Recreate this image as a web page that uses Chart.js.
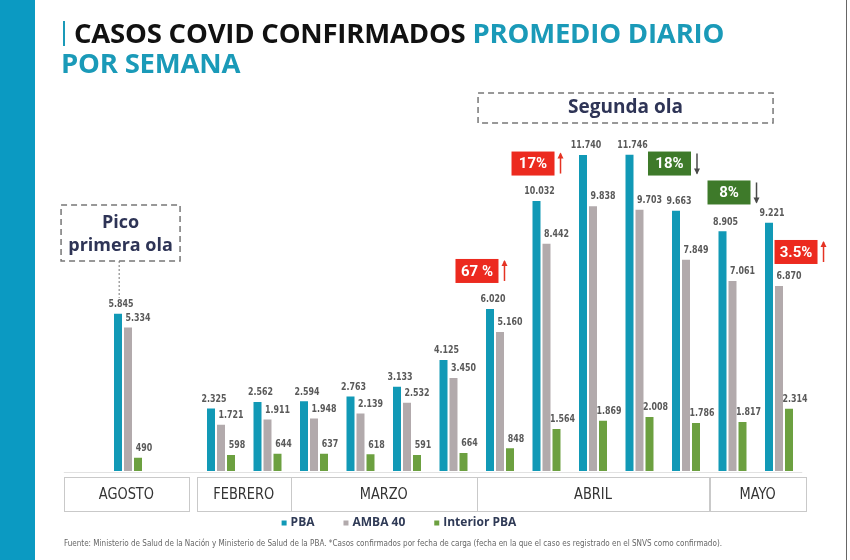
<!DOCTYPE html>
<html>
<head>
<meta charset="utf-8">
<script src="https://cdn.jsdelivr.net/npm/chart.js@4.4.0/dist/chart.umd.min.js"></script>
<style>
    html, body { margin: 0; padding: 0; background: #fff; }
    #wrap { position: relative; width: 850px; height: 560px; overflow: hidden; }
    #strip { position: absolute; left: 0; top: 0; width: 35px; height: 560px; background: #0b9ac2; }
    #edge { position: absolute; left: 846px; top: 0; width: 1px; height: 560px; background: #666; }
    #title { position: absolute; left: 61px; top: 18px; font-family: 'Open Sans', sans-serif; font-weight: 700;
             font-size: 27.5px; line-height: 30px; color: #111; white-space: nowrap; z-index: 2; letter-spacing: -0.2px; }
    #title .hl { color: #1a9ab8; }
    #title .bar { display: inline-block; width: 2px; height: 25px; background: #1a9ab8; margin: 0 9px 0 2px; vertical-align: -3px; }
    canvas { position: absolute; left: 0; top: 0; }
</style>
</head>
<body>
<div id="wrap">
    <canvas id="chart" width="850" height="560"></canvas>
    <div id="strip"></div>
    <div id="edge"></div>
    <div id="title"><span class="bar"></span>CASOS COVID CONFIRMADOS <span class="hl">PROMEDIO DIARIO</span><br><span class="hl">POR SEMANA</span></div>
</div>
<script>
// promedio diario por semana (una posición vacía separa agosto de febrero)
const semanas = ['Ago', '', 'Feb 1', 'Feb 2', 'Mar 1', 'Mar 2', 'Mar 3', 'Mar 4', 'Abr 1', 'Abr 2', 'Abr 3', 'Abr 4', 'Abr 5', 'May 1', 'May 2'];
const pba = [5845, null, 2325, 2562, 2594, 2763, 3133, 4125, 6020, 10032, 11740, 11746, 9663, 8905, 9221];
const amba = [5334, null, 1721, 1911, 1948, 2139, 2532, 3450, 5160, 8442, 9838, 9703, 7849, 7061, 6870];
const interior = [490, null, 598, 644, 637, 618, 591, 664, 848, 1564, 1869, 2008, 1786, 1817, 2314];

const meses = ['AGOSTO', 'FEBRERO', 'MARZO', 'ABRIL', 'MAYO'];
const variaciones = ['67 %', '17%', '18%', '8%', '3.5%'];
const sentido = [1, 1, -1, -1, 1];

const fuente = 'Fuente: Ministerio de Salud de la Nación y Ministerio de Salud de la PBA. *Casos confirmados por fecha de carga (fecha en la que el caso es registrado en el SNVS como confirmado).';

const NARROW = '"DejaVu Sans Condensed", sans-serif';
const NAVY = '#2e3456';

// layout of the decorations, in slot units (x) and data units (y)
const cajasMes = [[-1.38, 1.31], [1.48, 3.5], [3.5, 7.5], [7.5, 12.5], [12.5, 14.58]];
const posVariacion = [[7.505, 7430], [8.71, 11420], [11.645, 11420], [12.925, 10345], [14.366, 8135]];

// text squeezed horizontally, the source uses a condensed face
function narrowText(ctx, text, x, y, sx) {
    ctx.save();
    ctx.translate(x, y);
    ctx.scale(sx, 1);
    ctx.fillText(text, 0, 0);
    ctx.restore();
}

const decoraciones = {
    id: 'decoraciones',
    afterDatasetsDraw(chart) {
        const ctx = chart.ctx;
        const xs = chart.scales.x;
        const ys = chart.scales.y;
        const px = v => xs.getPixelForValue(v);
        const py = v => ys.getPixelForValue(v);
        const offsets = [3, 10, 6];

        ctx.save();
        // etiquetas de valores
        ctx.font = 'bold 11px ' + NARROW;
        ctx.fillStyle = '#5a5a5a';
        ctx.textAlign = 'center';
        ctx.textBaseline = 'bottom';
        chart.data.datasets.forEach((ds, i) => {
            chart.getDatasetMeta(i).data.forEach((bar, j) => {
                const v = ds.data[j];
                if (v == null) return;
                narrowText(ctx, v.toLocaleString('de-DE'), bar.x + offsets[i], bar.y - 4, 0.8);
            });
        });

        // linea base
        ctx.strokeStyle = '#e2e2e2';
        ctx.lineWidth = 1;
        ctx.beginPath();
        ctx.moveTo(px(-1.38), py(0) + 1.5);
        ctx.lineTo(px(14.5), py(0) + 1.5);
        ctx.stroke();

        // cajas de meses
        ctx.strokeStyle = '#c9c9c9';
        ctx.font = '16px ' + NARROW;
        ctx.fillStyle = '#333';
        ctx.textBaseline = 'middle';
        meses.forEach((m, i) => {
            const x0 = px(cajasMes[i][0]);
            const x1 = px(cajasMes[i][1]);
            ctx.strokeRect(Math.round(x0) + 0.5, 477.5, Math.round(x1 - x0), 34);
            narrowText(ctx, m, (x0 + x1) / 2, 495, 0.9);
        });

        // caja "Pico primera ola"
        ctx.setLineDash([6, 4]);
        ctx.strokeStyle = '#777';
        ctx.lineWidth = 1.5;
        const picoX = px(-0.16);
        const picoY = py(8840);
        ctx.strokeRect(picoX - 59.5, picoY - 28, 119, 56);
        ctx.setLineDash([2, 2]);
        ctx.lineWidth = 1;
        ctx.beginPath();
        ctx.moveTo(px(-0.19), picoY + 28);
        ctx.lineTo(px(-0.19), py(6430));
        ctx.stroke();

        // caja "Segunda ola"
        ctx.setLineDash([6, 4]);
        ctx.lineWidth = 1.5;
        const segX = px(10.7);
        const segY = py(13483);
        ctx.strokeRect(segX - 147.5, segY - 15, 295, 30);
        ctx.setLineDash([]);

        ctx.fillStyle = NAVY;
        ctx.font = 'bold 18px "Open Sans", sans-serif';
        ctx.fillText('Pico', picoX, picoY - 10);
        ctx.fillText('primera ola', picoX, picoY + 13);
        ctx.font = 'bold 19px "Open Sans", sans-serif';
        ctx.fillText('Segunda ola', segX, segY);

        // variaciones semanales
        variaciones.forEach((t, i) => {
            const cx = px(posVariacion[i][0]);
            const cy = py(posVariacion[i][1]);
            const up = sentido[i] > 0;
            ctx.fillStyle = up ? '#ec2a1f' : '#3e7a2a';
            ctx.fillRect(cx - 21.5, cy - 12, 43, 24);
            ctx.fillStyle = '#fff';
            ctx.font = 'bold 15px Roboto, sans-serif';
            ctx.fillText(t, cx, cy + 1);

            const ax = cx + 21.5 + 6;
            const col = up ? '#e53323' : '#4a4a4a';
            ctx.strokeStyle = col;
            ctx.fillStyle = col;
            ctx.lineWidth = 1.5;
            const tip = up ? cy - 10 : cy + 10;
            const tail = up ? cy + 10 : cy - 10;
            ctx.beginPath();
            ctx.moveTo(ax, tail);
            ctx.lineTo(ax, tip);
            ctx.stroke();
            const d = up ? 5 : -5;
            ctx.beginPath();
            ctx.moveTo(ax, tip - (up ? 1 : -1));
            ctx.lineTo(ax - 3, tip + d);
            ctx.lineTo(ax + 3, tip + d);
            ctx.closePath();
            ctx.fill();
        });

        // leyenda
        ctx.font = 'bold 12px "Open Sans", sans-serif';
        ctx.textAlign = 'left';
        const items = chart.data.datasets.map(ds => ({ label: ds.label, color: ds.backgroundColor, w: ctx.measureText(ds.label).width }));
        const total = items.reduce((s, it) => s + 5 + 4 + it.w, 0) + 29 * (items.length - 1);
        let lx = 399 - total / 2;
        items.forEach(it => {
            ctx.fillStyle = it.color;
            ctx.fillRect(lx, 520.5, 5, 5);
            ctx.fillStyle = '#2f3a56';
            ctx.fillText(it.label, lx + 9, 523);
            lx += 9 + it.w + 29;
        });

        // fuente
        ctx.font = '8px ' + NARROW;
        ctx.fillStyle = '#666';
        const fw = ctx.measureText(fuente).width;
        narrowText(ctx, fuente, 64, 544, 658 / fw);
        ctx.restore();
    }
};

new Chart(document.getElementById('chart'), {
    type: 'bar',
    data: {
        labels: semanas,
        datasets: [
            { label: 'PBA', data: pba, backgroundColor: '#1199b6' },
            { label: 'AMBA 40', data: amba, backgroundColor: '#b2aaac' },
            { label: 'Interior PBA', data: interior, backgroundColor: '#6ca040' }
        ]
    },
    options: {
        responsive: false,
        animation: false,
        layout: {
            padding: { left: 104.75, right: 47.75, top: 121, bottom: 89 }
        },
        datasets: {
            bar: {
                categoryPercentage: 0.645,
                barPercentage: 0.8
            }
        },
        plugins: {
            legend: { display: false },
            tooltip: { enabled: false }
        },
        scales: {
            x: { display: false },
            y: { display: false, min: 0, max: 13000 }
        }
    },
    plugins: [decoraciones]
});
</script>
</body>
</html>
